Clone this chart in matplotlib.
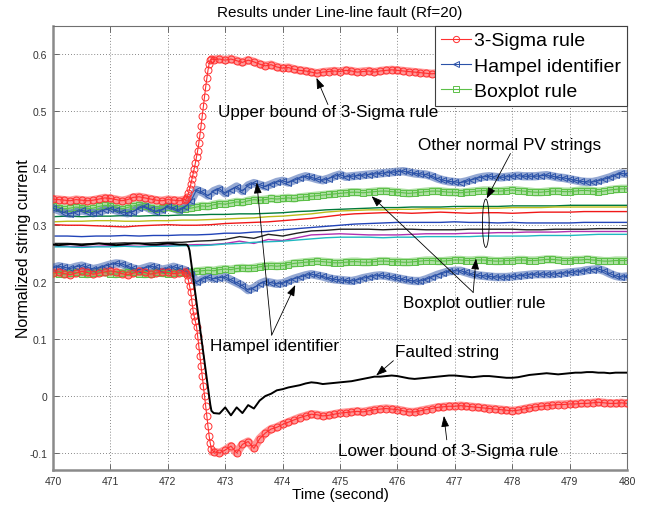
import numpy as np
import matplotlib
matplotlib.use('Agg')
import matplotlib.pyplot as plt
from matplotlib.patches import Ellipse

plt.rcParams['font.family'] = ['Liberation Sans', 'DejaVu Sans']

# time bases (s)
t_main = np.arange(4700, 4801) / 10.0            # 470.0 .. 480.0, step 0.1
t_pre = np.arange(4700, 4724) / 10.0             # 470.0 .. 472.3
t_jump = np.arange(47232, 47277, 2) / 100.0      # 472.32 .. 472.76
t_post = np.arange(4728, 4801) / 10.0            # 472.8 .. 480.0
t_norm = np.arange(0, 41) * 0.25 + 470.0         # normal strings

# 3-Sigma upper bound
sig_up_pre = [0.346, 0.345, 0.344, 0.343, 0.345, 0.344, 0.343, 0.344, 0.346, 0.348,
              0.347, 0.345, 0.343, 0.345, 0.349, 0.350, 0.348, 0.346, 0.344, 0.343,
              0.345, 0.344, 0.343, 0.345]
sig_up_jump = [0.346, 0.350, 0.356, 0.364, 0.372, 0.381, 0.390, 0.399, 0.409, 0.420,
               0.431, 0.444, 0.459, 0.475, 0.492, 0.509, 0.526, 0.543, 0.558, 0.572,
               0.584, 0.590, 0.592]
sig_up_post = [0.591, 0.592,
               0.590, 0.592, 0.589, 0.586, 0.590, 0.587, 0.583, 0.580, 0.582, 0.578,
               0.576, 0.577, 0.574, 0.572, 0.571, 0.569, 0.567, 0.569, 0.570, 0.571,
               0.570, 0.572, 0.571, 0.569, 0.570, 0.571, 0.569, 0.571, 0.572, 0.573,
               0.572, 0.571, 0.570, 0.569, 0.568, 0.567, 0.566, 0.567, 0.568, 0.569,
               0.570, 0.569, 0.568, 0.567, 0.566, 0.565, 0.566, 0.567, 0.568, 0.567,
               0.566, 0.565, 0.564, 0.565, 0.566, 0.567, 0.566, 0.565, 0.564, 0.565,
               0.566, 0.565, 0.564, 0.563, 0.564, 0.565, 0.564, 0.563, 0.564, 0.565,
               0.564]

# 3-Sigma lower bound
sig_lo_pre = [0.216, 0.218, 0.215, 0.213, 0.216, 0.219, 0.217, 0.214, 0.216, 0.218,
              0.220, 0.218, 0.215, 0.213, 0.216, 0.219, 0.217, 0.214, 0.216, 0.218,
              0.217, 0.215, 0.216, 0.218]
sig_lo_jump = [0.216, 0.212, 0.203, 0.193, 0.182, 0.166, 0.150, 0.140, 0.131, 0.122,
               0.105, 0.088, 0.070, 0.052, 0.035, 0.017, 0.000, -0.018, -0.035, -0.053,
               -0.070, -0.083, -0.093]
sig_lo_post = [-0.098, -0.100,
               -0.095, -0.088, -0.100, -0.085, -0.080, -0.092, -0.075, -0.065, -0.058, -0.055,
               -0.050, -0.046, -0.042, -0.038, -0.035, -0.032, -0.033, -0.035, -0.034, -0.032,
               -0.030, -0.029, -0.028, -0.027, -0.028, -0.026, -0.024, -0.023, -0.022, -0.023,
               -0.024, -0.026, -0.028, -0.028, -0.026, -0.024, -0.022, -0.020, -0.019, -0.018,
               -0.018, -0.017, -0.018, -0.019, -0.020, -0.021, -0.022, -0.023, -0.024, -0.025,
               -0.026, -0.025, -0.023, -0.021, -0.019, -0.018, -0.017, -0.016, -0.015, -0.015,
               -0.014, -0.014, -0.013, -0.013, -0.012, -0.011, -0.012, -0.013, -0.013, -0.012,
               -0.013]

# faulted string
fault_pre = [0.266, 0.265, 0.266, 0.267, 0.266, 0.265, 0.266, 0.267, 0.268, 0.267,
             0.266, 0.265, 0.266, 0.267, 0.268, 0.268, 0.267, 0.266, 0.266, 0.267,
             0.268, 0.267, 0.266, 0.266]
fault_jump = [0.266, 0.265, 0.262, 0.255, 0.240, 0.225, 0.210, 0.195, 0.180, 0.165,
              0.150, 0.135, 0.120, 0.105, 0.090, 0.075, 0.060, 0.045, 0.030, 0.015,
              0.000, -0.015, -0.026]
fault_post = [-0.030, -0.031,
              -0.020, -0.034, -0.020, -0.030, -0.016, -0.022, -0.008, 0.000, 0.004, 0.010,
              0.012, 0.015, 0.017, 0.019, 0.022, 0.024, 0.023, 0.021, 0.022, 0.023,
              0.024, 0.025, 0.026, 0.028, 0.030, 0.032, 0.034, 0.034, 0.035, 0.036,
              0.035, 0.033, 0.031, 0.030, 0.031, 0.032, 0.033, 0.034, 0.035, 0.036,
              0.036, 0.035, 0.034, 0.033, 0.034, 0.035, 0.035, 0.034, 0.033, 0.032,
              0.032, 0.033, 0.035, 0.037, 0.038, 0.039, 0.040, 0.039, 0.038, 0.039,
              0.040, 0.041, 0.041, 0.042, 0.042, 0.041, 0.041, 0.040, 0.041, 0.041,
              0.041]

# Hampel identifier bounds (t_main)
hampel_up = [0.330, 0.326, 0.322, 0.320, 0.323, 0.326, 0.324, 0.321, 0.323, 0.327,
             0.329, 0.326, 0.323, 0.321, 0.324, 0.330, 0.333, 0.328, 0.324, 0.327,
             0.333, 0.330, 0.326, 0.332, 0.342, 0.362, 0.358, 0.352, 0.360, 0.364,
             0.356, 0.362, 0.368, 0.360, 0.370, 0.374, 0.371, 0.368, 0.372, 0.376,
             0.378, 0.375, 0.379, 0.383, 0.386, 0.384, 0.381, 0.379, 0.382, 0.386,
             0.389, 0.385, 0.386, 0.387, 0.388, 0.389, 0.390, 0.391, 0.392, 0.393,
             0.394, 0.395, 0.393, 0.391, 0.390, 0.389, 0.386, 0.382, 0.379, 0.377,
             0.376, 0.375, 0.377, 0.380, 0.383, 0.385, 0.386, 0.385, 0.384, 0.385,
             0.386, 0.387, 0.386, 0.386, 0.386, 0.387, 0.388, 0.386, 0.384, 0.383,
             0.381, 0.379, 0.377, 0.376, 0.376, 0.378, 0.381, 0.384, 0.388, 0.391,
             0.390]
hampel_lo = [0.225, 0.228, 0.226, 0.224, 0.227, 0.229, 0.226, 0.223, 0.225, 0.228,
             0.231, 0.233, 0.232, 0.228, 0.224, 0.222, 0.225, 0.228, 0.226, 0.222,
             0.224, 0.227, 0.224, 0.221, 0.215, 0.200, 0.205, 0.209, 0.206, 0.208,
             0.209, 0.204, 0.199, 0.194, 0.186, 0.190, 0.197, 0.201, 0.199, 0.197,
             0.198, 0.202, 0.206, 0.209, 0.212, 0.214, 0.212, 0.210, 0.207, 0.205,
             0.204, 0.203, 0.202, 0.204, 0.207, 0.209, 0.211, 0.212, 0.211, 0.209,
             0.207, 0.205, 0.203, 0.202, 0.202, 0.205, 0.209, 0.213, 0.216, 0.219,
             0.220, 0.220, 0.217, 0.214, 0.212, 0.211, 0.210, 0.209, 0.209, 0.209,
             0.210, 0.211, 0.212, 0.213, 0.214, 0.214, 0.214, 0.214, 0.215, 0.216,
             0.217, 0.218, 0.219, 0.221, 0.222, 0.223, 0.220, 0.215, 0.211, 0.209,
             0.210]

# Boxplot rule bounds (t_main)
box_up = [0.333, 0.331, 0.329, 0.330, 0.332, 0.331, 0.329, 0.330, 0.333, 0.335,
          0.334, 0.331, 0.329, 0.331, 0.334, 0.336, 0.334, 0.331, 0.329, 0.330,
          0.332, 0.330, 0.328, 0.329, 0.330, 0.332, 0.334, 0.333, 0.336, 0.338,
          0.337, 0.339, 0.341, 0.340, 0.343, 0.345, 0.344, 0.345, 0.347, 0.346,
          0.347, 0.348, 0.347, 0.349, 0.350, 0.351, 0.352, 0.353, 0.354, 0.355,
          0.356, 0.357, 0.358, 0.358, 0.357, 0.358, 0.359, 0.360, 0.360, 0.359,
          0.358, 0.357, 0.356, 0.357, 0.358, 0.359, 0.360, 0.360, 0.359, 0.358,
          0.358, 0.357, 0.358, 0.359, 0.360, 0.361, 0.361, 0.360, 0.360, 0.361,
          0.362, 0.361, 0.360, 0.359, 0.358, 0.358, 0.359, 0.360, 0.360, 0.359,
          0.359, 0.360, 0.361, 0.361, 0.360, 0.359, 0.360, 0.362, 0.363, 0.364,
          0.364]
box_lo = [0.216, 0.215, 0.214, 0.216, 0.217, 0.215, 0.214, 0.216, 0.218, 0.217,
          0.215, 0.214, 0.216, 0.218, 0.217, 0.215, 0.214, 0.215, 0.217, 0.216,
          0.215, 0.216, 0.217, 0.216, 0.217, 0.219, 0.220, 0.221, 0.220, 0.222,
          0.223, 0.222, 0.224, 0.225, 0.224, 0.225, 0.227, 0.228, 0.229, 0.228,
          0.229, 0.231, 0.233, 0.234, 0.235, 0.236, 0.237, 0.236, 0.235, 0.234,
          0.234, 0.235, 0.236, 0.236, 0.235, 0.235, 0.236, 0.237, 0.237, 0.236,
          0.236, 0.235, 0.235, 0.236, 0.237, 0.238, 0.238, 0.237, 0.237, 0.238,
          0.239, 0.239, 0.238, 0.238, 0.239, 0.239, 0.238, 0.237, 0.237, 0.238,
          0.238, 0.239, 0.239, 0.238, 0.238, 0.239, 0.240, 0.240, 0.239, 0.238,
          0.238, 0.239, 0.239, 0.240, 0.239, 0.238, 0.237, 0.237, 0.238, 0.238,
          0.238]

# other normal PV strings (t_norm)
normal_strings = {
    '#007a3d': [0.315, 0.316, 0.315, 0.316, 0.316, 0.317, 0.316, 0.317, 0.317, 0.318,
                0.318, 0.319, 0.319, 0.320, 0.320, 0.321, 0.322, 0.324, 0.325, 0.327,
                0.328, 0.329, 0.330, 0.331, 0.331, 0.332, 0.332, 0.332, 0.333, 0.333,
                0.333, 0.333, 0.334, 0.334, 0.334, 0.334, 0.335, 0.335, 0.335, 0.335,
                0.335],
    '#bcbc1a': [0.306, 0.307, 0.307, 0.308, 0.308, 0.307, 0.307, 0.308, 0.308, 0.309,
                0.309, 0.310, 0.311, 0.312, 0.313, 0.315, 0.316, 0.318, 0.320, 0.323,
                0.325, 0.326, 0.327, 0.327, 0.328, 0.328, 0.329, 0.329, 0.329, 0.330,
                0.330, 0.330, 0.331, 0.331, 0.331, 0.332, 0.332, 0.332, 0.332, 0.332,
                0.332],
    '#f01818': [0.301, 0.300, 0.300, 0.299, 0.298, 0.297, 0.299, 0.300, 0.301, 0.300,
                0.300, 0.301, 0.303, 0.304, 0.305, 0.306, 0.308, 0.310, 0.312, 0.315,
                0.318, 0.320, 0.321, 0.322, 0.322, 0.321, 0.322, 0.323, 0.322, 0.321,
                0.322, 0.322, 0.321, 0.322, 0.323, 0.323, 0.323, 0.324, 0.324, 0.324,
                0.324],
    '#2244b8': [0.281, 0.281, 0.280, 0.281, 0.281, 0.282, 0.281, 0.282, 0.282, 0.283,
                0.283, 0.284, 0.286, 0.286, 0.288, 0.289, 0.292, 0.294, 0.296, 0.298,
                0.300, 0.302, 0.303, 0.304, 0.305, 0.305, 0.305, 0.305, 0.306, 0.305,
                0.305, 0.304, 0.305, 0.304, 0.304, 0.304, 0.304, 0.305, 0.305, 0.305,
                0.305],
    '#b030b0': [0.263, 0.263, 0.262, 0.263, 0.264, 0.264, 0.263, 0.264, 0.265, 0.265,
                0.266, 0.266, 0.268, 0.272, 0.268, 0.275, 0.273, 0.278, 0.283, 0.284,
                0.285, 0.284, 0.283, 0.283, 0.283, 0.284, 0.285, 0.285, 0.285, 0.286,
                0.286, 0.287, 0.287, 0.288, 0.288, 0.288, 0.289, 0.289, 0.289, 0.289,
                0.289],
    '#1fb8c0': [0.262, 0.262, 0.261, 0.262, 0.262, 0.263, 0.262, 0.263, 0.263, 0.264,
                0.264, 0.265, 0.267, 0.268, 0.270, 0.271, 0.272, 0.274, 0.276, 0.278,
                0.279, 0.279, 0.279, 0.278, 0.279, 0.279, 0.280, 0.280, 0.280, 0.280,
                0.281, 0.281, 0.281, 0.281, 0.282, 0.282, 0.282, 0.283, 0.284, 0.284,
                0.284],
    '#202020': [0.268, 0.268, 0.267, 0.268, 0.268, 0.269, 0.268, 0.269, 0.270, 0.270,
                0.272, 0.273, 0.275, 0.280, 0.277, 0.284, 0.281, 0.286, 0.290, 0.291,
                0.293, 0.293, 0.293, 0.292, 0.293, 0.293, 0.292, 0.292, 0.292, 0.293,
                0.293, 0.293, 0.293, 0.292, 0.292, 0.293, 0.293, 0.293, 0.294, 0.294,
                0.294],
}

red = '#ff3030'
blue = '#2b52a8'
green = '#5cc048'

fig = plt.figure(figsize=(6.48, 5.06), dpi=100)
ax = fig.add_axes([53 / 648, 1 - 471 / 506, 574 / 648, 444 / 506])

for col, vals in normal_strings.items():
    ax.plot(t_norm, vals, color=col, lw=1.0, zorder=2)

t_sig = np.concatenate([t_pre, t_jump, t_post])
sig_up = sig_up_pre + sig_up_jump + sig_up_post
sig_lo = sig_lo_pre + sig_lo_jump + sig_lo_post
fault = fault_pre + fault_jump + fault_post

# thick "band" look under the markers
for y in (box_up, box_lo):
    ax.plot(t_main, y, color=green, lw=6, alpha=0.5, zorder=3)
for y in (hampel_up, hampel_lo):
    ax.plot(t_main, y, color=blue, lw=6, alpha=0.5, zorder=3)
for tt, y in ((t_pre, sig_up_pre), (t_post, sig_up_post),
              (t_pre, sig_lo_pre), (t_post, sig_lo_post)):
    ax.plot(tt, y, color=red, lw=6, alpha=0.5, zorder=3)

mk = dict(ms=5, mfc='none', mew=0.7, lw=0.8)
h_box, = ax.plot(t_main, box_up, color=green, marker='s', zorder=4, **mk)
ax.plot(t_main, box_lo, color=green, marker='s', zorder=4, **mk)
h_ham, = ax.plot(t_main, hampel_up, color=blue, marker='<', zorder=4, **mk)
ax.plot(t_main, hampel_lo, color=blue, marker='<', zorder=4, **mk)
h_sig, = ax.plot(t_sig, sig_up, color=red, marker='o', zorder=5, **mk)
ax.plot(t_sig, sig_lo, color=red, marker='o', zorder=5, **mk)

ax.plot(t_sig, fault, color='k', lw=1.4, zorder=6)

ax.set_xlim(470, 480)
ax.set_ylim(-0.13, 0.65)
ax.set_xticks(np.arange(470, 481))
ax.set_yticks([-0.1, 0, 0.1, 0.2, 0.3, 0.4, 0.5, 0.6])
ax.set_yticklabels(['-0.1', '0', '0.1', '0.2', '0.3', '0.4', '0.5', '0.6'])
ax.tick_params(direction='in', top=True, right=True, length=4, width=0.6,
               labelsize=7.5, labelcolor='#333333', color='#555555', pad=4)
ax.grid(True, color='#606060', linestyle=(0, (1, 2.5)), lw=0.6)
for side in ('left', 'bottom'):
    ax.spines[side].set_linewidth(1.8)
    ax.spines[side].set_color('#8a8a8a')
for side in ('top', 'right'):
    ax.spines[side].set_linewidth(0.8)
    ax.spines[side].set_color('#707070')

ax.set_title('Results under Line-line fault (Rf=20)', fontsize=11, pad=7)
ax.set_xlabel('Time (second)', fontsize=11, labelpad=1)
ax.set_ylabel('Normalized string current', fontsize=11.5, labelpad=-1)

leg = ax.legend([h_sig, h_ham, h_box], ['3-Sigma rule', 'Hampel identifier', 'Boxplot rule'],
                loc='upper right', fontsize=14, borderaxespad=0, fancybox=False,
                framealpha=1, edgecolor='#404040', handlelength=1.55, handletextpad=0.15,
                labelspacing=0.4, borderpad=0.3, markerscale=0.9)
leg.get_frame().set_linewidth(0.8)
leg.set_zorder(10)

arrow = dict(arrowstyle='-|>,head_length=0.55,head_width=0.2', color='k', lw=0.6,
             mutation_scale=12, shrinkA=0, shrinkB=0)
fs = 12.3

ax.text(472.875, 0.500, 'Upper bound of 3-Sigma rule', fontsize=fs, va='center', zorder=8)
ax.annotate('', xy=(474.59, 0.559), xytext=(474.79, 0.512), arrowprops=arrow, zorder=8)

ax.text(476.36, 0.442, 'Other normal PV strings', fontsize=fs, va='center', zorder=8)
ax.annotate('', xy=(477.555, 0.347), xytext=(477.97, 0.426), arrowprops=arrow, zorder=8)
ax.add_patch(Ellipse((477.54, 0.3035), 0.116, 0.085, fill=False, ec='k', lw=0.6, zorder=8))

ax.text(476.10, 0.164, 'Boxplot outlier rule', fontsize=fs, va='center', zorder=8)
ax.annotate('', xy=(477.37, 0.2415), xytext=(477.32, 0.182), arrowprops=arrow, zorder=8)
ax.annotate('', xy=(475.55, 0.351), xytext=(477.32, 0.182), arrowprops=arrow, zorder=8)

ax.text(472.735, 0.088, 'Hampel identifier', fontsize=fs, va='center', zorder=8)
ax.annotate('', xy=(473.55, 0.375), xytext=(473.81, 0.107), arrowprops=arrow, zorder=8)
ax.annotate('', xy=(474.22, 0.195), xytext=(473.81, 0.107), arrowprops=arrow, zorder=8)

ax.text(475.96, 0.078, 'Faulted string', fontsize=fs, va='center', zorder=8)
ax.annotate('', xy=(475.63, 0.036), xytext=(475.93, 0.062), arrowprops=arrow, zorder=8)

ax.text(474.97, -0.095, 'Lower bound of 3-Sigma rule', fontsize=fs, va='center', zorder=8)
ax.annotate('', xy=(476.81, -0.035), xytext=(476.86, -0.077), arrowprops=arrow, zorder=8)

fig.savefig('out.png', dpi=100, facecolor='white')
